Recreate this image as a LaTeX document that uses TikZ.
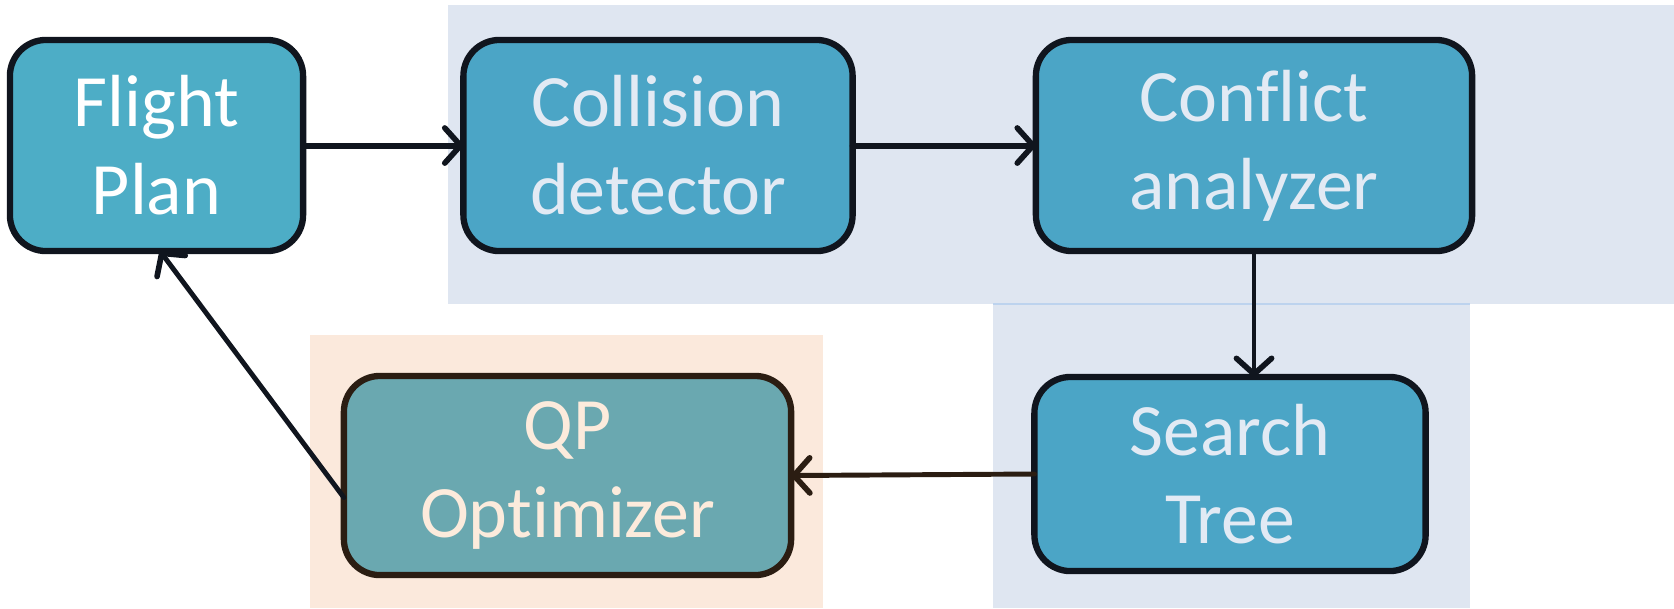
\documentclass[tikz,border=0pt]{standalone}
\usepackage{fontspec}
\setmainfont{Carlito}[Ligatures={NoCommon}]
\usetikzlibrary{arrows.meta,calc}
\definecolor{boxblue}{HTML}{4BA5C6}
\definecolor{fpblue}{HTML}{4DADC6}
\definecolor{qpfill}{HTML}{6AA8B0}
\definecolor{qpedge}{HTML}{2B1D12}
\definecolor{qptext}{HTML}{FCEBDC}
\definecolor{lighttext}{HTML}{E2EAF4}
\definecolor{panelblue}{HTML}{DFE6F1}
\definecolor{panelorange}{HTML}{FBE9DC}
\definecolor{edgedark}{HTML}{10151E}
\definecolor{panelline}{HTML}{BDD3EE}
\tikzset{
  proc/.style={draw=edgedark, line width=1.8pt, rounded corners=0.36cm, fill=boxblue,
    text=lighttext, align=center, inner sep=0pt, outer sep=0pt,
    font=\fontsize{21pt}{25pt}\selectfont},
  flow/.style={draw=edgedark, line width=1.4pt, line cap=round,
    -{Straight Barb[length=4.5pt,width=10pt,line width=1.6pt,round]}},
}
\begin{document}
\begin{tikzpicture}[x=0.01cm,y=-0.01cm]
\useasboundingbox (0,0) rectangle (1674,608);
% panels
\fill[panelblue] (448,5) rectangle (1674,304);
\fill[panelblue] (993,304) rectangle (1470,608);
\draw[color=panelline, line width=0.4pt] (993,304) -- (1470,304);
\fill[panelorange] (310,335) rectangle (823,608);
% nodes
\node[proc, fill=fpblue, text=white, minimum width=2.93cm, minimum height=2.11cm] (fp) at (156.5,145.5) {Flight\\Plan};
\node[proc, minimum width=3.89cm, minimum height=2.11cm] (cd) at (658,145.5) {Collision\\detector};
\node[proc, minimum width=4.36cm, minimum height=2.11cm] (ca) at (1254,145.5) {Conflict\\analyzer};
\node[proc, minimum width=3.91cm, minimum height=1.94cm] (st) at (1230,474) {Search\\Tree};
\node[proc, fill=qpfill, draw=qpedge, text=qptext, minimum width=4.47cm, minimum height=1.99cm] (qp) at (567.5,475.5) {QP\\Optimizer};
% connectors
\draw[flow, line width=1.7pt] (fp.east) -- (cd.west);
\draw[flow, line width=1.7pt] (cd.east) -- (ca.west);
\draw[flow] (ca.south) -- (ca.south |- st.north);
\draw[flow, draw=qpedge] (st.west) -- (qp.east);
\draw[flow] ([yshift=-0.22cm]qp.west) -- ([xshift=0.035cm]fp.south);
\end{tikzpicture}
\end{document}
